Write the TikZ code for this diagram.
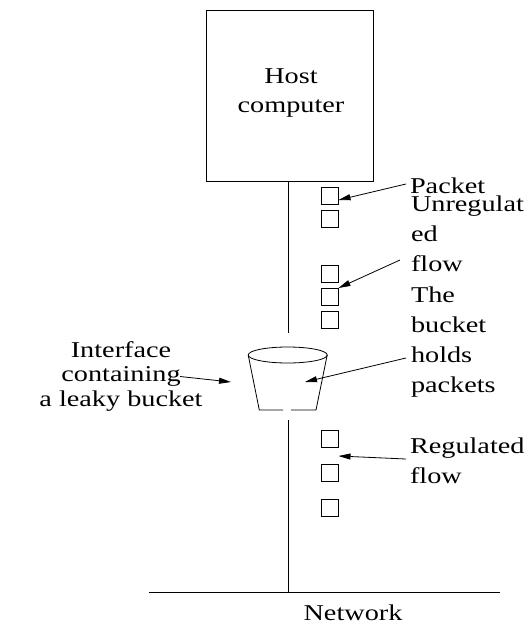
\documentclass[tikz,border=0pt]{standalone}
\usepackage{fontspec}
\setmainfont{Liberation Serif}[FakeStretch=1.25]
\usetikzlibrary{arrows.meta}

\begin{document}
\begin{tikzpicture}[x=1pt,y=-1pt,
  every node/.style={inner sep=0pt, outer sep=0pt},
  lbl/.style={font=\fontsize{22.6}{30}\selectfont},
  pkt/.style={draw, line width=0.8pt, minimum width=17pt, minimum height=17pt},
  wire/.style={line width=0.8pt},
  ptr/.style={line width=0.8pt, -{Triangle[length=12pt,width=6pt]}}]
\useasboundingbox (0,0) rectangle (529,624);

% host computer (multi-line labels are placed by the baseline of their last line)
\node[draw, line width=0.8pt, minimum width=167pt, minimum height=171pt] (host) at (289.5,95.5) {};
\node[lbl, align=center, anchor=base, font=\fontsize{22.6}{29}\selectfont] (hosttxt) at (291,112) {Host\\computer};

% leaky bucket
\coordinate (bucketc) at (287.7,355);
\draw[wire] (bucketc) ellipse [x radius=39.5, y radius=8];
\coordinate (btl) at (248.2,355);
\coordinate (btr) at (327.2,355);
\coordinate (bbl) at (259.3,410);
\coordinate (bbr) at (316,410);
\coordinate (gapl) at (283,410);
\coordinate (gapr) at (291,410);
\draw[wire] (btl) -- (bbl) -- (gapl);
\draw[wire] (gapr) -- (bbr) -- (btr);

% wire from host to bucket, and from bucket to the network
\coordinate (wtop) at (288,333);
\coordinate (wlow) at (288,420);
\coordinate (tap) at (288,592);
\draw[wire] (host.south -| wtop) -- (wtop);
\draw[wire] (wlow) -- (tap);
\coordinate (netl) at (149,592);
\coordinate (netr) at (500,592);
\draw[wire] (netl) -- (netr);
\node[lbl, anchor=base] (net) at (353,620) {Network};

% packets
\node[pkt] (p1) at (330,196) {};
\node[pkt] (p2) at (330,218.5) {};
\node[pkt] (p3) at (330,273.5) {};
\node[pkt] (p4) at (330,296.5) {};
\node[pkt] (p5) at (330,320) {};
\node[pkt] (p6) at (330,438.5) {};
\node[pkt] (p7) at (330,473) {};
\node[pkt] (p8) at (330,508) {};

% labels
\node[lbl, anchor=base west] (packet) at (410,193) {Packet};
\node[lbl, align=left, anchor=base west] (unreg) at (411,271) {Unregulat\\ed\\flow};
\node[lbl, align=left, anchor=base west] (holds) at (411,392) {The\\bucket\\holds\\packets};
\node[lbl, align=left, anchor=base west] (reg) at (410,483) {Regulated\\flow};
\node[lbl, align=center, anchor=base, font=\fontsize{22.6}{24.5}\selectfont] (iface) at (121,406) {Interface\\containing\\a leaky bucket};

% pointers
\coordinate (aPacket) at (406,184);
\coordinate (aUnreg) at (400,260);
\coordinate (aIface) at (180,376.5);
\coordinate (aHolds) at (406,358);
\coordinate (aReg) at (406,459);
\coordinate (tIface) at (231,382);
\coordinate (tHolds) at (305,382);
\draw[ptr] (aPacket) -- (p1.east |- 0,200);
\draw[ptr] (aUnreg) -- (p4.east |- 0,288);
\draw[ptr] (aIface) -- (tIface);
\draw[ptr] (aHolds) -- (tHolds);
\draw[ptr] (aReg) -- (p7.east |- 0,456);
\end{tikzpicture}
\end{document}
